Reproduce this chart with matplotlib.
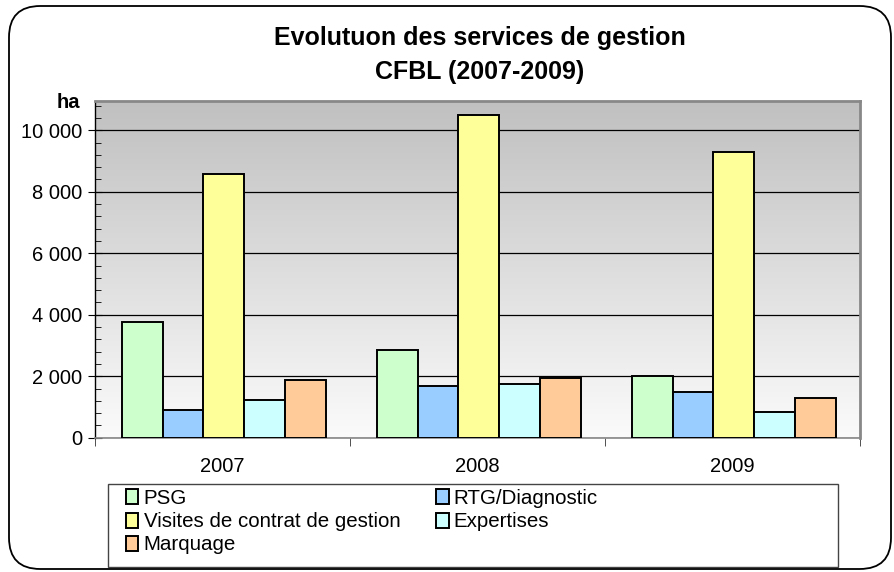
import numpy as np
import matplotlib
matplotlib.use("Agg")
import matplotlib.pyplot as plt
from matplotlib.patches import FancyBboxPatch, Rectangle
from matplotlib.ticker import FuncFormatter, MultipleLocator

plt.rcParams['font.family'] = ['Liberation Sans', 'DejaVu Sans']

years = ["2007", "2008", "2009"]
series = ["PSG", "RTG/Diagnostic", "Visites de contrat de gestion",
          "Expertises", "Marquage"]
psg = [3750, 2840, 2010]
rtg = [900, 1680, 1480]
visites = [8570, 10510, 9280]
expertises = [1225, 1745, 835]
marquage = [1875, 1930, 1280]
colors = ["#ccffcc", "#99ccff", "#ffff99", "#ccffff", "#ffcc99"]

values = [psg, rtg, visites, expertises, marquage]

W, H = 894, 572
fig = plt.figure(figsize=(W / 100, H / 100), dpi=100)

# --------------------------------------------------
# Outer rounded frame
# --------------------------------------------------
frame = FancyBboxPatch(
    (9 / W, 3 / H), (891 - 9) / W, (566 - 3) / H,
    boxstyle="round,pad=0,rounding_size=0.035",
    transform=fig.transFigure, facecolor="none",
    edgecolor="black", linewidth=1.3, mutation_aspect=W / H, zorder=5,
)
fig.patches.append(frame)

ax = fig.add_axes([95 / W, 1 - 437.7 / H, (860 - 95) / W, (437.7 - 101) / H])

# gradient background
grad = np.linspace(0, 1, 256)
top = np.array([0xc0, 0xc0, 0xc0]) / 255
bot = np.array([0xfb, 0xfb, 0xfb]) / 255
img = top[None, :] * grad[:, None] + bot[None, :] * (1 - grad[:, None])
ax.imshow(img[:, None, :], extent=[0, 1, 0, 1], transform=ax.transAxes,
          aspect="auto", origin="lower", zorder=0)

x = np.arange(len(years))
width = 0.16
for i, (vals, col, name) in enumerate(zip(values, colors, series)):
    ax.bar(x + (i - 2) * width + 0.005, vals, width=width, color=col,
           edgecolor="black", linewidth=1.4, label=name, zorder=3)

ax.set_xlim(-0.5, 2.5)
ax.set_ylim(0, 10950)

# --------------------------------------------------
# Axis formatting
# --------------------------------------------------
ax.set_axisbelow(True)
ax.yaxis.set_major_locator(MultipleLocator(2000))
ax.yaxis.set_minor_locator(MultipleLocator(400))
ax.yaxis.set_major_formatter(
    FuncFormatter(lambda v, p: f"{int(v):,}".replace(",", " ")))
ax.grid(True, axis="y", which="major", color="black", linewidth=0.9)

ax.set_xticks(x)
ax.set_xticklabels(years)
ax.set_xticks([-0.5, 0.5, 1.5, 2.5], minor=True)
ax.tick_params(axis="x", which="major", length=0, pad=14, labelsize=14.5)
ax.tick_params(axis="x", which="minor", length=6, direction="out",
               color="#333333")
ax.tick_params(axis="y", which="major", length=10, direction="inout",
               labelsize=14.5, pad=4)
ax.tick_params(axis="y", which="minor", length=4, direction="in")

ax.spines["left"].set_color("black")
ax.spines["left"].set_linewidth(1.0)
for s in ("top", "right"):
    ax.spines[s].set_color("#888888")
    ax.spines[s].set_linewidth(2.0)
ax.spines["bottom"].set_color("#888888")
ax.spines["bottom"].set_linewidth(1.2)

fig.text(80 / W, 1 - 103 / H, "ha", ha="right", va="center",
         fontsize=14.5, fontweight="bold")

# --------------------------------------------------
# Title
# --------------------------------------------------
fig.text(480 / W, 1 - 38 / H, "Evolutuon des services de gestion",
         ha="center", va="center", fontsize=18, fontweight="bold")
fig.text(480 / W, 1 - 72 / H, "CFBL (2007-2009)",
         ha="center", va="center", fontsize=18, fontweight="bold")

# --------------------------------------------------
# Legend
# --------------------------------------------------
fig.patches.append(Rectangle((108 / W, 1 - 567 / H), (838 - 108) / W,
                             (567 - 484) / H, transform=fig.transFigure,
                             facecolor="white", edgecolor="#444444",
                             linewidth=1.0))
handles, labels = ax.get_legend_handles_labels()
order = [0, 2, 4, 1, 3]
leg = fig.legend([handles[k] for k in order], [labels[k] for k in order],
                 loc="upper left", bbox_to_anchor=(122 / W, 1 - 485 / H),
                 ncol=2, frameon=False, fontsize=14.8, handlelength=0.6,
                 handleheight=0.75, handletextpad=0.25, labelspacing=0.2,
                 columnspacing=1.75, borderaxespad=0, borderpad=0.2)

fig.savefig("out.png", dpi=100)
